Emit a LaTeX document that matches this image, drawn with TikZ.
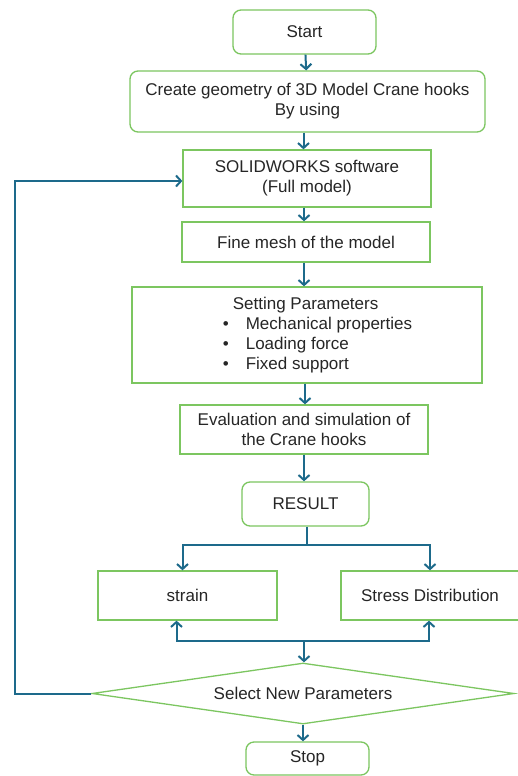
\documentclass[tikz,border=0pt]{standalone}
\usepackage{fontspec}
\setmainfont{Liberation Sans}
\usetikzlibrary{arrows.meta,shapes.geometric}
\definecolor{boxg}{HTML}{7CC660}
\definecolor{arrc}{HTML}{1D6A8B}
\begin{document}
\begin{tikzpicture}[x=1pt,y=-1pt,
 every node/.style={font=\fontsize{17}{20}\selectfont, text=black!85},
 bx/.style={draw=boxg, line width=1.3pt, inner sep=0pt, align=center},
 rbx/.style={bx, rounded corners=8pt},
 ar/.style={draw=arrc, line width=2pt, -{Straight Barb[length=5pt,width=11pt,line width=2pt]}},
 ln/.style={draw=arrc, line width=2pt}]
\useasboundingbox (0,0) rectangle (517,776);
\fill[white] (0,0) rectangle (517,776);

\node[rbx, minimum width=143pt, minimum height=44pt] (start) at (304.5,32) {Start};
\node[rbx, minimum width=355pt, minimum height=61pt] (create) at (307.5,101.5) {Create geometry of 3D Model Crane hooks\\By using};
\node[bx, minimum width=248pt, minimum height=57pt] (sw) at (307,178.5) {SOLIDWORKS software\\(Full model)};
\node[bx, minimum width=248pt, minimum height=40pt] (mesh) at (306,242) {Fine mesh of the model};
\node[bx, minimum width=350pt, minimum height=96pt, align=left] (set) at (307,335)
 {\hspace*{31pt}Setting Parameters\\
  \hspace*{21pt}\makebox[23pt][l]{\textbullet}Mechanical properties\\
  \hspace*{21pt}\makebox[23pt][l]{\textbullet}Loading force\\
  \hspace*{21pt}\makebox[23pt][l]{\textbullet}Fixed support};
\node[bx, minimum width=248pt, minimum height=49pt] (eval) at (304,429.5) {Evaluation and simulation of\\the Crane hooks};
\node[rbx, minimum width=127pt, minimum height=44pt] (result) at (305.5,504) {RESULT};
\node[bx, minimum width=179pt, minimum height=49pt] (strain) at (187.5,595.5) {strain};
\node[bx, minimum width=178pt, minimum height=49pt] (stress) at (430,595.5) {Stress Distribution};
\node[bx, diamond, aspect=7, minimum width=422pt, minimum height=61pt] (dec) at (303,693.5) {Select New Parameters};
\node[rbx, minimum width=123pt, minimum height=33pt] (stop) at (307.5,758.5) {Stop};

\draw[ar] (start) -- (create);
\draw[ar] ([xshift=-4pt]create.south) -- ([xshift=-4pt]create.south |- sw.north);
\draw[ar] ([xshift=-3pt]sw.south) -- ([xshift=-3pt]sw.south |- mesh.north);
\draw[ar] ([xshift=-2pt]mesh.south) -- ([xshift=-2pt]mesh.south |- set.north);
\draw[ar] ([xshift=-2pt]set.south) -- ([xshift=-2pt]set.south |- eval.north);
\draw[ar] (eval) -- (eval.south |- result.north);

\draw[ln] ([xshift=1.5pt]result.south) -- ([xshift=1.5pt]result.south |- 0,545) coordinate (bj);
\draw[ar] (bj) -| ([xshift=-5pt]strain.north);
\draw[ar] (bj) -| (stress.north);

\coordinate (bm) at (304,641);
\draw[ar] (bm) -| ([xshift=-11pt]strain.south);
\draw[ar] (bm) -| ([xshift=-1pt]stress.south);
\draw[ar] (bm) -- (bm |- dec.north);

\draw[ar] (dec.west) -- ++(-76,0) |- ([yshift=-2.5pt]sw.west);
\draw[ar] (dec) -- (dec.south |- stop.north);
\end{tikzpicture}
\end{document}
